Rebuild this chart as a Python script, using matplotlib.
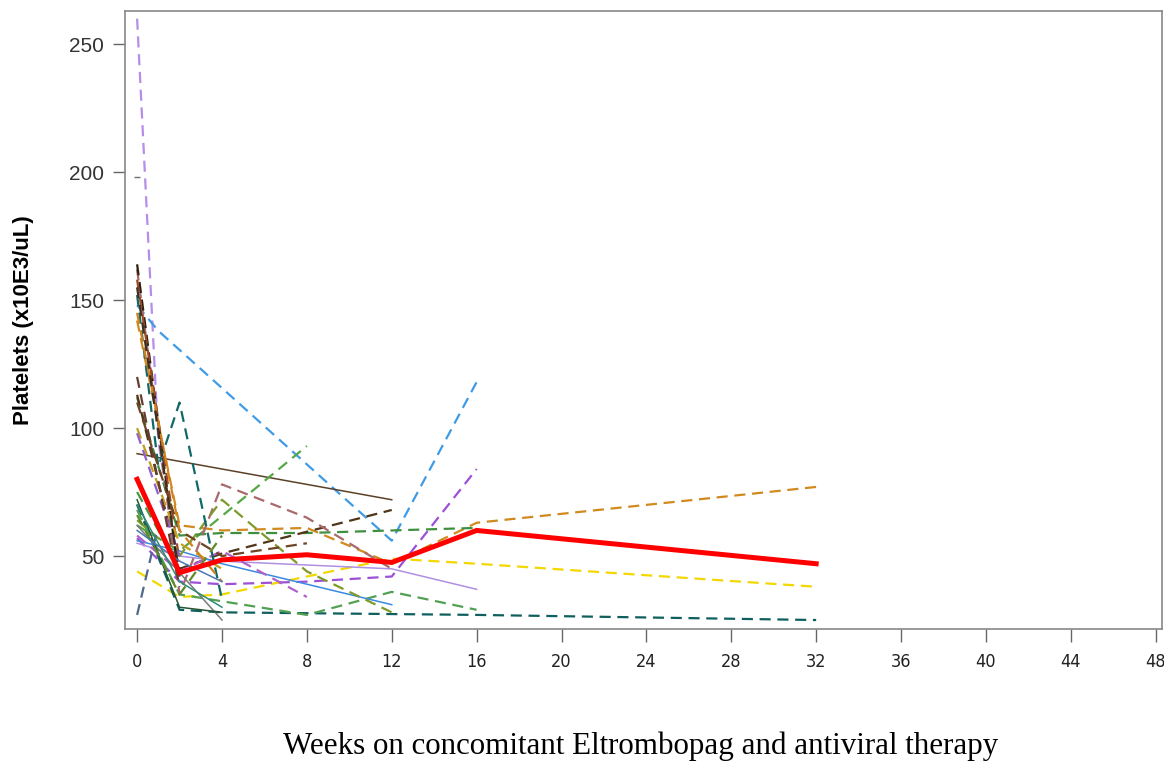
import numpy as np
from matplotlib import pyplot as plt

# weeks on treatment for each patient, and platelet counts (x10E3/uL) at those weeks
patient_weeks = [
    [0, 1, 2],
    [0, 1, 12, 16],
    [0, 12],
    [0, 2, 4, 8, 12, 16, 32],
    [0, 2, 4, 12, 16, 32],
    [0, 2, 4, 16, 32],
    [0, 2, 8],
    [0, 2, 4, 8, 12, 16],
    [0, 2, 4, 8, 12, 16],
    [0, 2, 4, 12, 16],
    [0, 2, 8, 12, 16],
    [0, 2, 4, 12],
    [0, 2, 4, 12],
    [0, 2, 4, 8, 12],
    [0, 2, 4, 8, 12],
    [0, 2, 4, 8],
    [0, 1, 2, 4],
    [0, 2],
    [0, 2],
    [0, 4],
    [0, 2, 4],
    [0, 1],
    [0, 2, 4],
    [0, 2, 4],
    [0, 2, 4, 8],
    [0, 2, 4],
    [0, 2],
    [0, 2],
    [0, 2, 4],
    [0, 2],
    [0, 2],
    [0, 2, 4],
]
patient_platelets = [
    [260, 95, 42],
    [148, 138, 56, 118],
    [90, 72],
    [142, 62, 60, 61, 47, 63, 77],
    [44, 34, 35, 49, 47, 38],
    [70, 29, 28, 27, 25],
    [62, 52, 93],
    [112, 58, 59, 59, 60, 61],
    [57, 40, 39, 40, 42, 84],
    [55, 50, 48, 45, 37],
    [68, 35, 27, 36, 29],
    [56, 52, 47, 31],
    [113, 45, 51, 68],
    [162, 35, 78, 65, 45],
    [64, 50, 72, 44, 28],
    [58, 44, 52, 34],
    [152, 85, 110, 33],
    [164, 40],
    [158, 48],
    [62, 25],
    [72, 30, 28],
    [27, 62],
    [100, 55, 45],
    [70, 40, 30],
    [110, 60, 50, 55],
    [145, 60, 40],
    [75, 45],
    [98, 50],
    [66, 35, 58],
    [155, 42],
    [120, 38],
    [60, 48, 40],
]
patient_colors = [
    '#b48ee8', '#3f9be6', '#5b4128', '#d08a1e', '#f2d800', '#0f5f5f',
    '#55a845', '#3e8f3e', '#9b50d6', '#b090e0', '#52a052', '#3a8ae0',
    '#4f3418', '#a86a6a', '#7f9a2a', '#b060c8', '#106868', '#2e2010',
    '#9c4a26', '#7a7a7a', '#245636', '#50688c', '#c0a020', '#2f8a78',
    '#6e4424', '#d0821e', '#3e9e3e', '#9060d0', '#5f8a2a', '#403020',
    '#6a3c30', '#4a78b0',
]
patient_dashed = [
    True, True, False, True, True, True, True, True, True, False,
    True, False, True, True, True, True, True, True, True, False,
    False, True, True, False, True, True, True, True, True, True,
    True, False,
]

# single baseline-only observation
single_week = [0]
single_platelets = [198]

# group mean
mean_weeks = [0, 2, 4, 8, 12, 16, 32]
mean_platelets = [80, 43.5, 48.5, 50.5, 47.5, 60, 47]

x_ticks = np.arange(0, 49, 4)
y_ticks = [50, 100, 150, 200, 250]

fig = plt.figure(figsize=(11.64, 7.77), dpi=100)
ax = fig.add_axes([0.1074, 0.1905, 0.8909, 0.7954])

for wk, val, col, dashed in zip(patient_weeks, patient_platelets,
                                patient_colors, patient_dashed):
    if dashed:
        ax.plot(wk, val, color=col, lw=1.6, dashes=(5, 3))
    else:
        ax.plot(wk, val, color=col, lw=1.1)

ax.plot(single_week, single_platelets, marker='_', color='#707070', ms=4, ls='none')

ax.plot(mean_weeks, mean_platelets, color='#ff0000', lw=3.6, solid_joinstyle='miter', zorder=5)

ax.set_xlim(-0.57, 48.3)
ax.set_ylim(21.5, 263)
ax.set_xticks(x_ticks)
ax.set_yticks(y_ticks)
ax.set_xticklabels([str(t) for t in x_ticks], family='DejaVu Sans', fontstretch='condensed',
                   fontsize=13, color='#222222')
ax.set_yticklabels([str(t) for t in y_ticks], family='Liberation Sans',
                   fontsize=15, color='#333333')
ax.tick_params(axis='both', direction='out', length=9, width=1, color='#666666')
ax.tick_params(axis='y', pad=6)
ax.tick_params(axis='x', pad=8)
for sp in ax.spines.values():
    sp.set_color('#888888')
    sp.set_linewidth(1.2)

ax.set_ylabel('Platelets (x10E3/uL)', family='Liberation Sans', fontweight='bold',
              fontsize=16)
ax.yaxis.set_label_coords(-0.088, 0.5)

fig.text(0.55, 0.039, 'Weeks on concomitant Eltrombopag and antiviral therapy',
         family='Liberation Serif', fontsize=22.3, ha='center', va='center')

fig.savefig('out.png', dpi=100)
